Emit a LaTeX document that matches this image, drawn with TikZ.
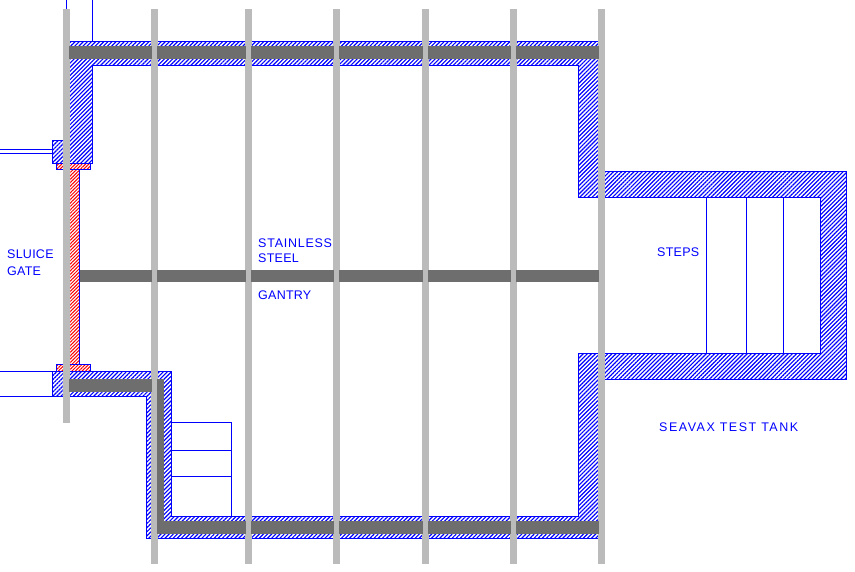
\documentclass[tikz,border=0pt]{standalone}
\usepackage{fontspec}
\setmainfont{Liberation Sans}
\newfontfamily\tankfont[LetterSpace=2]{Liberation Sans}
\newfontfamily\widefont[LetterSpace=12]{Liberation Sans}
\usetikzlibrary{patterns.meta}
\definecolor{cadblue}{RGB}{0,0,255}
\definecolor{cadred}{RGB}{255,0,0}
\definecolor{postgrey}{RGB}{187,187,187}
\definecolor{beamgrey}{RGB}{110,110,110}
\begin{document}
\begin{tikzpicture}
          [
            x=1pt,y=-1pt,
            cadline/.style={draw=cadblue,line width=1pt},
            wallhatch/.style={cadline,pattern={Lines[angle=45,distance=2.9pt,line width=1.15pt]},pattern color=cadblue},
            gatehatch/.style={cadline,pattern={Lines[angle=45,distance=2.4pt,line width=1pt]},pattern color=cadred},
            tanklabel/.style={anchor=base west,inner sep=0pt,text=cadblue,font=\tankfont\fontsize{12.5}{12.5}\selectfont},
            widelabel/.style={tanklabel,font=\widefont\fontsize{12.5}{12.5}\selectfont}
          ]
          \useasboundingbox (0,0) rectangle (855,572);
          % walls
          \draw [wallhatch]
          (68,41.5) -- (600,41.5) -- (600,171.3) -- (846,171.3) -- (846,379.3)
          -- (600,379.3) -- (600,538.7) -- (146.5,538.7) -- (146.5,396) -- (52.5,396)
          -- (52.5,371.5) -- (171.5,371.5) -- (171.5,516) -- (578,516) -- (578,354)
          -- (820,354) -- (820,197.3) -- (578,197.3) -- (578,66) -- (92.5,66)
          -- (92.5,163.5) -- (52.5,163.5) -- (52.5,140.5) -- (68,140.5) -- cycle;
          % sluice gate
          \draw [gatehatch] (56.5,163.5) rectangle (90.7,169.7);
          \draw [gatehatch] (56.5,365) rectangle (90.7,371.5);
          \draw [gatehatch] (68,169.7) rectangle (79.5,365);
          % outside lines
          \draw [cadline] (66,0) -- (66,12);
          \draw [cadline] (92.5,0) -- (92.5,41.5);
          \foreach \y in {149.5,154,371.5,396} {
              \draw [cadline] (0,\y) -- (52.5,\y);
          }
          % steps
          \foreach \x in {706.3,746.3,783.5} {
              \draw [cadline] (\x,197.3) -- (\x,354);
          }
          \draw [cadline] (171.5,422.3) -- (231.5,422.3) -- (231.5,516);
          \foreach \y in {450.3,476.3} {
              \draw [cadline] (171.5,\y) -- (231.5,\y);
          }
          % posts
          \fill [postgrey] (63,9) rectangle (70,422.7);
          \foreach \x in {151.3,245,333,421.5,509.5,598} {
              \fill [postgrey] (\x,9) rectangle (\x+7,564);
          }
          % beams
          \foreach \a/\b in {69/152.3,157/246,251/334,339/422.5,427.5/510.5,515.5/599} {
              \fill [beamgrey] (\a,45.7) rectangle (\b,59);
          }
          \foreach \a/\b in {79.5/152.3,157/246,251/334,339/422.5,427.5/510.5,515.5/599} {
              \fill [beamgrey] (\a,270) rectangle (\b,281.7);
          }
          \foreach \a/\b in {157/246,251/334,339/422.5,427.5/510.5,515.5/599} {
              \fill [beamgrey] (\a,521) rectangle (\b,534);
          }
          \fill [beamgrey] (69,379) rectangle (152.3,392);
          \fill [beamgrey] (157,379) rectangle (164,534);
          % labels
          \node [tanklabel] (sluice) at (7,259) {SLUICE};
          \node [tanklabel] (gate) at (7,275.5) {GATE};
          \node [tanklabel] (stainless) at (258,248) {\addfontfeature{LetterSpace=6}STAINLESS};
          \node [tanklabel] (steel) at (258,263) {STEEL};
          \node [tanklabel] (gantry) at (258,300) {GANTRY};
          \node [tanklabel] (steps) at (657,257) {STEPS};
          \node [widelabel] (seavax) at (659,431) {SEAVAX TEST TANK};
        \end{tikzpicture}
\end{document}
